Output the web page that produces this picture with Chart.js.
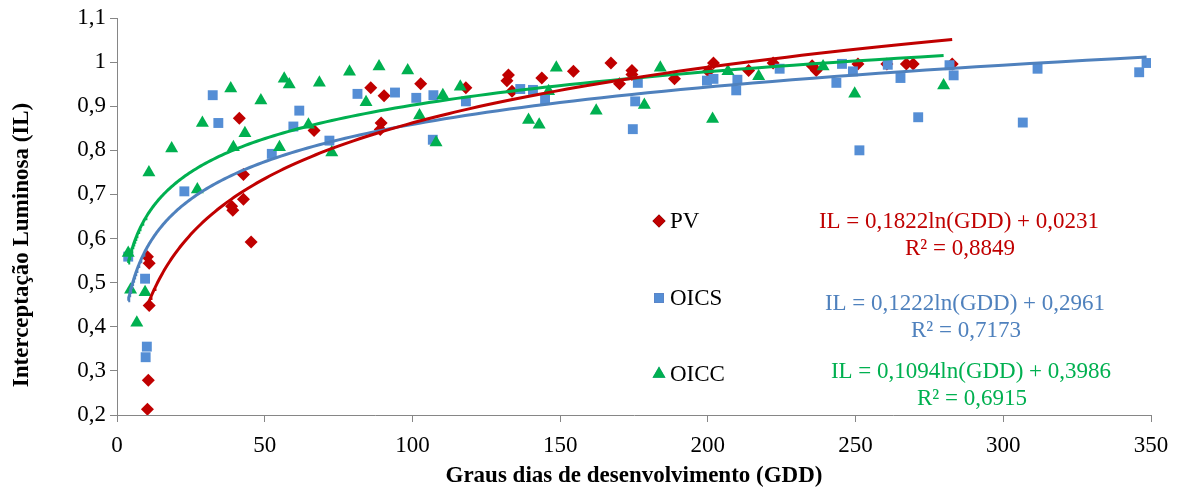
<!DOCTYPE html>
<html>
<head>
<meta charset="utf-8">
<script src="https://cdn.jsdelivr.net/npm/chart.js@4/dist/chart.umd.min.js"></script>
<style>
  html, body { margin: 0; padding: 0; background: #fff; }
</style>
</head>
<body>
<canvas id="grafIL" width="1182" height="488"></canvas>
<script>
// dados (GDD x IL)
const pvGdd = [10.3, 10.6, 10.9, 10.9, 10.3, 41.4, 42.8, 42.8, 38.8, 39.2, 45.4, 66.7, 85.9, 90.4, 89.4, 89.1,
  102.8, 118.1, 132.5, 132.0, 133.7, 143.8, 154.5, 167.2, 170.1, 174.3, 174.3, 188.7, 200.2, 201.9,
  213.8, 222.1, 235.3, 236.7, 250.8, 260.6, 267.2, 269.5, 282.7];
const pvIl = [0.213, 0.279, 0.448, 0.544, 0.559, 0.873, 0.745, 0.689, 0.673, 0.664, 0.592, 0.845, 0.942, 0.924, 0.862, 0.847,
  0.951, 0.942, 0.971, 0.958, 0.934, 0.964, 0.979, 0.998, 0.951, 0.981, 0.972, 0.962, 0.979, 0.998,
  0.981, 0.998, 0.992, 0.981, 0.996, 0.996, 0.996, 0.996, 0.996];

const oicsGdd = [3.8, 9.5, 10.1, 9.7, 22.8, 32.4, 34.3, 52.4, 59.7, 61.7, 71.9, 81.4, 94.1, 101.3, 107.1, 106.9,
  118.1, 136.5, 140.8, 144.9, 176.3, 175.4, 174.6, 199.7, 201.9, 210.0, 209.6, 224.3, 243.5, 245.4,
  249.1, 251.3, 260.9, 265.2, 271.2, 281.8, 283.2, 306.6, 311.6, 346.0, 348.5];
const oicsIl = [0.559, 0.509, 0.355, 0.331, 0.707, 0.925, 0.862, 0.792, 0.854, 0.890, 0.822, 0.928, 0.931, 0.919, 0.925, 0.824,
  0.911, 0.939, 0.937, 0.916, 0.953, 0.911, 0.848, 0.958, 0.962, 0.960, 0.936, 0.985, 0.953, 0.996,
  0.979, 0.800, 0.994, 0.964, 0.875, 0.993, 0.970, 0.863, 0.985, 0.977, 0.998];

const oiccGdd = [3.8, 4.6, 6.7, 9.5, 10.8, 18.5, 28.9, 27.2, 38.5, 39.4, 43.3, 48.7, 55.0, 56.6, 58.3, 64.8,
  68.5, 72.7, 78.7, 84.3, 88.7, 98.4, 102.4, 108.0, 110.3, 116.2, 139.3, 142.9, 146.1, 148.7,
  162.2, 178.5, 183.9, 201.6, 206.8, 217.2, 239.0, 249.7, 279.8];
const oiccIl = [0.567, 0.484, 0.409, 0.478, 0.750, 0.804, 0.862, 0.711, 0.940, 0.807, 0.839, 0.913, 0.807, 0.962, 0.949, 0.858,
  0.953, 0.795, 0.978, 0.909, 0.990, 0.981, 0.879, 0.818, 0.925, 0.944, 0.869, 0.858, 0.934, 0.987,
  0.890, 0.903, 0.987, 0.871, 0.979, 0.968, 0.990, 0.928, 0.947];

// linhas de tendência logarítmica: IL = a ln(GDD) + b
const series = ['PV', 'OICS', 'OICC'];
const coefA = [0.1822, 0.1222, 0.1094];
const coefB = [0.0231, 0.2961, 0.3986];
const r2 = ['0,8849', '0,7173', '0,6915'];

const xTicks = [0, 50, 100, 150, 200, 250, 300, 350];
const yTicks = [0.2, 0.3, 0.4, 0.5, 0.6, 0.7, 0.8, 0.9, 1.0, 1.1];

const corMarca = ['#C00000', '#558ED5', '#00B050'];
const corLinha = ['#C00000', '#4F81BD', '#00B050'];
const fonte = 'Liberation Serif, Times New Roman, serif';

function pontos(xs, ys) {
  return xs.map((x, i) => ({ x: x, y: ys[i] }));
}

function curvaLog(a, b, xs) {
  const xmin = Math.min(...xs);
  const xmax = Math.max(...xs);
  const pts = [];
  const n = 150;
  for (let i = 0; i <= n; i++) {
    const x = xmin * Math.pow(xmax / xmin, i / n);
    pts.push({ x: x, y: a * Math.log(x) + b });
  }
  return pts;
}

function virgula(v) {
  return String(Math.round(v * 10) / 10).replace('.', ',');
}

const todosX = [pvGdd, oicsGdd, oiccGdd];
const todosY = [pvIl, oicsIl, oiccIl];
const estilos = ['rectRot', 'rect', 'triangle'];
const raios = [6.5, 7, 7.5];

const datasets = [];
series.forEach((nome, i) => {
  datasets.push({
    label: nome,
    data: pontos(todosX[i], todosY[i]),
    pointStyle: estilos[i],
    pointRadius: raios[i],
    pointHoverRadius: raios[i],
    backgroundColor: corMarca[i],
    borderColor: corMarca[i],
    borderWidth: 0,
    showLine: false,
    order: 3 - i
  });
});
series.forEach((nome, i) => {
  datasets.push({
    type: 'line',
    label: 'Tendência ' + nome,
    data: curvaLog(coefA[i], coefB[i], todosX[i]),
    borderColor: corLinha[i],
    borderWidth: 3,
    pointRadius: 0,
    tension: 0,
    fill: false,
    order: 0
  });
});

// legenda e equações dentro da área do gráfico, como no original
const legendaPlugin = {
  id: 'legendaIL',
  afterDraw(chart) {
    const ctx = chart.ctx;
    ctx.save();

    // título do eixo Y
    ctx.save();
    ctx.translate(22, 245);
    ctx.rotate(-Math.PI / 2);
    ctx.font = 'bold 23px ' + fonte;
    ctx.fillStyle = '#000';
    ctx.textAlign = 'center';
    ctx.textBaseline = 'middle';
    ctx.fillText('Interceptação Luminosa (IL)', 0, 0);
    ctx.restore();

    const legY = [221, 298, 374];
    const eqY = [228, 310, 378];
    const eqX = [959, 965, 971];
    for (let i = 0; i < 3; i++) {
      Chart.helpers.drawPoint(ctx, {
        pointStyle: estilos[i], radius: [6.5, 7, 7.5][i], rotation: 0, borderWidth: 0
      }, 659, legY[i]);
      ctx.fillStyle = corMarca[i];
      ctx.fill();

      ctx.fillStyle = '#000';
      ctx.font = '23px ' + fonte;
      ctx.textAlign = 'left';
      ctx.textBaseline = 'middle';
      ctx.fillText(series[i], 670, legY[i] + 1);

      ctx.fillStyle = corLinha[i];
      ctx.textAlign = 'center';
      ctx.textBaseline = 'alphabetic';
      const a = String(coefA[i]).replace('.', ',');
      const b = String(coefB[i]).replace('.', ',');
      ctx.fillText('IL = ' + a + 'ln(GDD) + ' + b, eqX[i], eqY[i]);
      ctx.fillText('R² = ' + r2[i], eqX[i] + 1, eqY[i] + 27);
    }
    ctx.restore();
  }
};

const ctxIL = document.getElementById('grafIL').getContext('2d');
new Chart(ctxIL, {
  type: 'scatter',
  data: { datasets: datasets },
  plugins: [legendaPlugin],
  options: {
    responsive: false,
    animation: false,
    layout: { padding: { top: 18, right: 31, left: 0, bottom: 0 } },
    plugins: {
      legend: { display: false },
      tooltip: { enabled: false }
    },
    scales: {
      x: {
        type: 'linear',
        min: 0,
        max: 350,
        afterBuildTicks: (scale) => { scale.ticks = xTicks.map(v => ({ value: v })); },
        afterFit: (scale) => { scale.height = 73; },
        ticks: {
          font: { family: fonte, size: 23 },
          color: '#000',
          padding: 10,
          maxRotation: 0
        },
        grid: { drawOnChartArea: false, drawTicks: true, tickLength: 7, color: '#868686' },
        border: { color: '#868686', width: 1 },
        title: {
          display: true,
          text: 'Graus dias de desenvolvimento (GDD)',
          font: { family: fonte, size: 23, weight: 'bold', lineHeight: 1 },
          color: '#000',
          padding: { top: 0, bottom: 0 }
        }
      },
      y: {
        type: 'linear',
        min: 0.2,
        max: 1.1,
        afterBuildTicks: (scale) => { scale.ticks = yTicks.map(v => ({ value: v })); },
        afterFit: (scale) => { scale.width = 117; },
        ticks: {
          font: { family: fonte, size: 23 },
          color: '#000',
          padding: 4,
          callback: (v) => virgula(v)
        },
        grid: { drawOnChartArea: false, drawTicks: true, tickLength: 7, color: '#868686' },
        border: { color: '#868686', width: 1 }
      }
    }
  }
});
</script>
</body>
</html>
